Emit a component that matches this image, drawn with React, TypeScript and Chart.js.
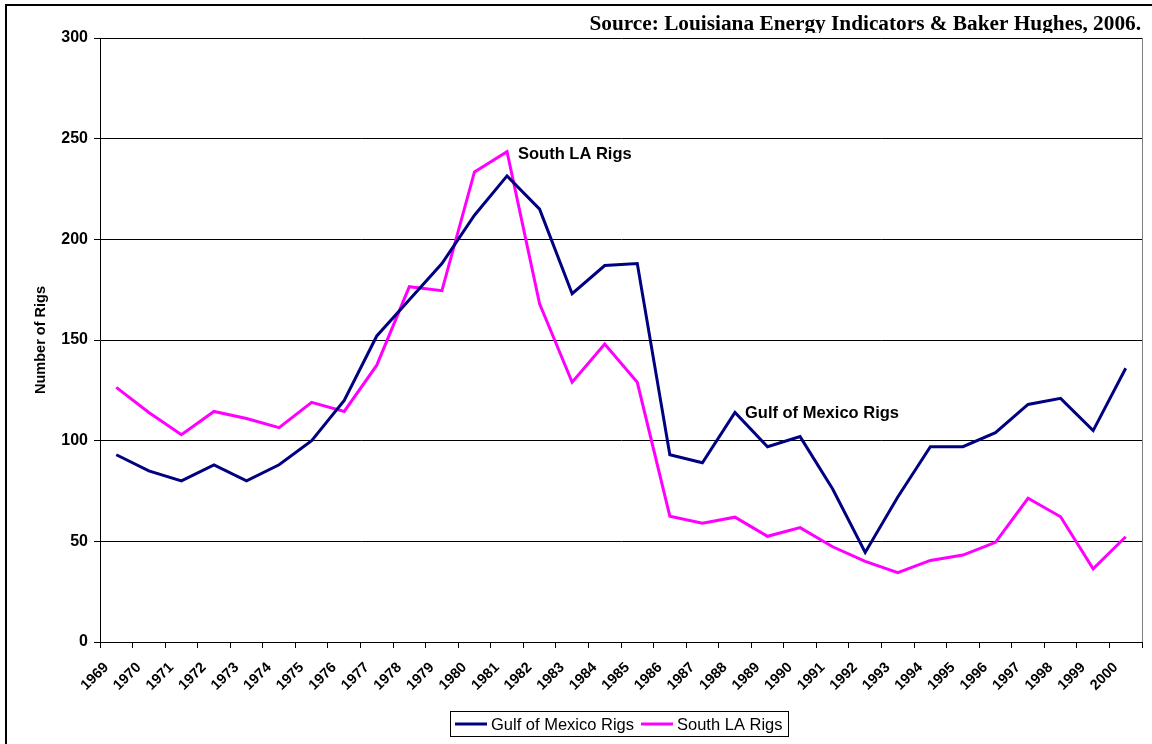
import React, { useEffect, useRef } from "react";
import { Chart, registerables } from "chart.js";

Chart.register(...registerables);

const years: string[] = [
  "1969", "1970", "1971", "1972", "1973", "1974", "1975", "1976", "1977", "1978",
  "1979", "1980", "1981", "1982", "1983", "1984", "1985", "1986", "1987", "1988",
  "1989", "1990", "1991", "1992", "1993", "1994", "1995", "1996", "1997", "1998",
  "1999", "2000",
];

const gulfOfMexicoRigs: number[] = [
  93, 85, 80, 88, 80, 88, 100, 120, 152, 170,
  188, 212, 231.5, 215, 173, 187, 188, 93, 89, 114,
  97, 102, 76, 44.5, 72, 97, 97, 104, 118, 121,
  105, 136,
];

const southLARigs: number[] = [
  126.5, 114, 103, 114.5, 111, 106.5, 119, 114.5, 137.5, 176.5,
  174.5, 233.5, 243.5, 168, 129, 148, 129, 62.5, 59, 62,
  52.5, 56.8, 47.3, 40, 34.4, 40.5, 43.2, 49.5, 71.4, 62.2,
  36.3, 52.3,
];

const yTicks: number[] = [0, 50, 100, 150, 200, 250, 300];

const seriesNames = ["Gulf of Mexico Rigs", "South LA Rigs"];
const seriesColors = ["#000080", "#FF00FF"];
const sourceText = "Source: Louisiana Energy Indicators & Baker Hughes, 2006.";
const yTitle = "Number of Rigs";

const SANS = "Arial, 'Liberation Sans', sans-serif";
const SERIF = "'Times New Roman', 'Liberation Serif', serif";

const decorPlugin = {
  id: "decor",
  beforeDraw(chart: any) {
    const ctx = chart.ctx;
    ctx.save();
    ctx.fillStyle = "#fff";
    ctx.fillRect(0, 0, chart.width, chart.height);
    ctx.restore();
  },
  afterDraw(chart: any) {
    const ctx = chart.ctx;
    const area = chart.chartArea;
    const xs = chart.scales.x;
    const ys = chart.scales.y;
    ctx.save();

    // outer frame (top & left)
    ctx.fillStyle = "#000";
    ctx.fillRect(5, 4, chart.width, 2);
    ctx.fillRect(5, 4, 2, chart.height);

    // plot area right border
    ctx.strokeStyle = "#808080";
    ctx.lineWidth = 1;
    ctx.beginPath();
    ctx.moveTo(Math.round(area.right) + 0.5, area.top);
    ctx.lineTo(Math.round(area.right) + 0.5, area.bottom);
    ctx.stroke();

    // source text (clipped at bottom)
    ctx.save();
    ctx.beginPath();
    ctx.rect(0, 0, chart.width, 33);
    ctx.clip();
    ctx.fillStyle = "#000";
    ctx.font = `bold 21.3px ${SERIF}`;
    ctx.textAlign = "right";
    ctx.textBaseline = "alphabetic";
    ctx.fillText(sourceText, 1141, 30);
    ctx.restore();

    // y axis title
    ctx.save();
    ctx.translate(41, (area.top + area.bottom) / 2);
    ctx.rotate(-Math.PI / 2);
    ctx.fillStyle = "#000";
    ctx.font = `bold 14.5px ${SANS}`;
    ctx.textAlign = "center";
    ctx.textBaseline = "middle";
    ctx.fillText(yTitle, 0, 0);
    ctx.restore();

    // series annotations
    ctx.fillStyle = "#000";
    ctx.font = `bold 16.5px ${SANS}`;
    ctx.textAlign = "left";
    ctx.textBaseline = "middle";
    const sx = xs.getPixelForValue(12) + 11;
    const sy = ys.getPixelForValue(243.5) + 3;
    ctx.fillText(seriesNames[1], sx, sy);
    const gx = xs.getPixelForValue(19) + 10;
    const gy = ys.getPixelForValue(114) + 1;
    ctx.fillText(seriesNames[0], gx, gy);

    // legend box
    const lx = 450, ly = 711, lw = 338, lh = 25;
    ctx.strokeStyle = "#000";
    ctx.lineWidth = 1;
    ctx.strokeRect(lx + 0.5, ly + 0.5, lw, lh);
    const cy = ly + lh / 2 + 0.5;
    ctx.font = `16.5px ${SANS}`;
    ctx.textBaseline = "middle";
    const items = [
      { x0: 455, x1: 487, tx: 491 },
      { x0: 641, x1: 673, tx: 677 },
    ];
    items.forEach((it, i) => {
      ctx.strokeStyle = seriesColors[i];
      ctx.lineWidth = 3;
      ctx.beginPath();
      ctx.moveTo(it.x0, cy);
      ctx.lineTo(it.x1, cy);
      ctx.stroke();
      ctx.fillStyle = "#000";
      ctx.fillText(seriesNames[i], it.tx, cy + 1);
    });

    ctx.restore();
  },
};

export default function App() {
  const ref = useRef<HTMLCanvasElement | null>(null);

  useEffect(() => {
    if (!ref.current) return;
    const chart = new Chart(ref.current, {
      type: "line",
      data: {
        labels: years,
        datasets: [
          {
            label: seriesNames[0],
            data: gulfOfMexicoRigs,
            borderColor: seriesColors[0],
            backgroundColor: seriesColors[0],
            borderWidth: 3,
            pointRadius: 0,
            tension: 0,
          },
          {
            label: seriesNames[1],
            data: southLARigs,
            borderColor: seriesColors[1],
            backgroundColor: seriesColors[1],
            borderWidth: 3,
            pointRadius: 0,
            tension: 0,
          },
        ],
      },
      options: {
        animation: false,
        responsive: false,
        devicePixelRatio: 1,
        layout: { padding: { top: 38, right: 10, left: 0, bottom: 0 } },
        plugins: {
          legend: { display: false },
          tooltip: { enabled: false },
          title: { display: false },
        },
        scales: {
          x: {
            type: "category",
            offset: true,
            grid: {
              offset: true,
              drawOnChartArea: false,
              drawTicks: true,
              tickLength: 6,
              color: "#000",
            },
            border: { color: "#000", width: 1 },
            ticks: {
              color: "#000",
              font: { family: SANS, size: 14.5, weight: "bold" },
              maxRotation: 45,
              minRotation: 45,
              autoSkip: false,
              padding: 11,
              labelOffset: -10,
            },
            afterFit: (s: any) => {
              s.height = 102;
            },
          },
          y: {
            min: 0,
            max: 300,
            afterBuildTicks: (s: any) => {
              s.ticks = yTicks.map((v) => ({ value: v }));
            },
            grid: {
              color: "#000",
              drawTicks: true,
              tickLength: 6,
            },
            border: { color: "#000", width: 1 },
            ticks: {
              color: "#000",
              font: { family: SANS, size: 16, weight: "bold" },
              padding: 6,
            },
            afterFit: (s: any) => {
              s.width = 100;
            },
          },
        },
      },
      plugins: [decorPlugin],
    });
    return () => chart.destroy();
  }, []);

  return (
    <div
      style={{
        position: "fixed",
        left: 0,
        top: 0,
        width: 1152,
        height: 744,
        background: "#fff",
        overflow: "hidden",
      }}
    >
      <canvas ref={ref} width={1152} height={744} style={{ display: "block" }} />
    </div>
  );
}
